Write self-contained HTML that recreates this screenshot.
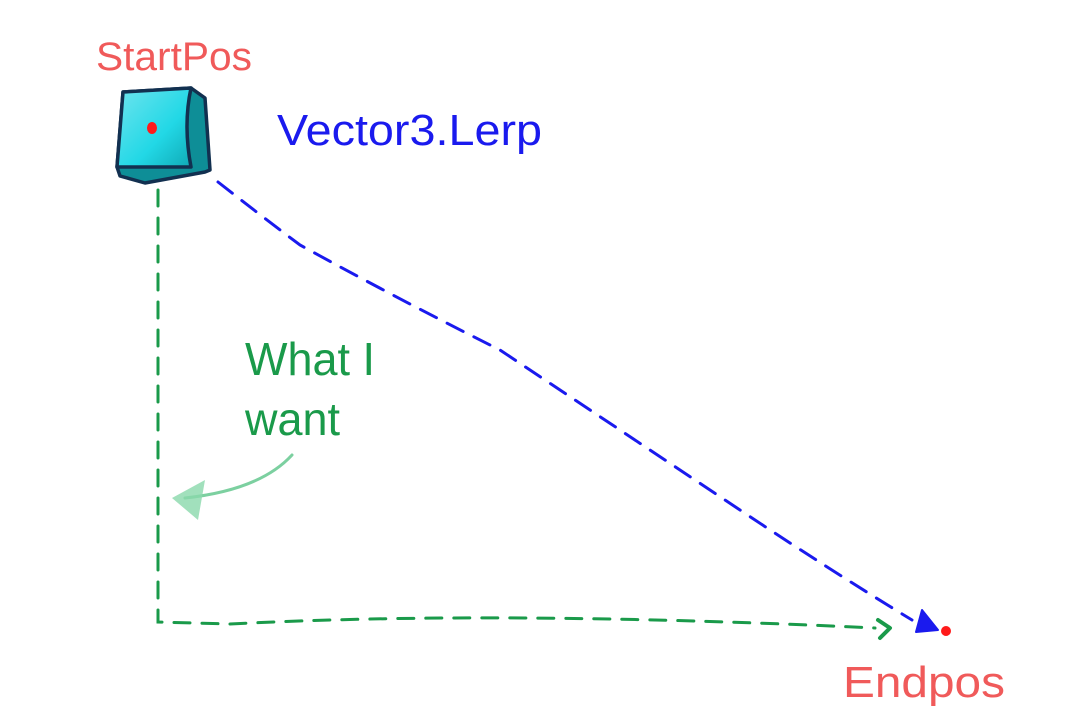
<!DOCTYPE html>
<html><head><style>
html,body{margin:0;padding:0;background:#fff;}
svg{display:block;}
text{font-family:"Liberation Sans",sans-serif;}
</style></head><body>
<svg width="1080" height="720" viewBox="0 0 1080 720">
<defs>
<linearGradient id="g" x1="0" y1="0" x2="1" y2="1">
<stop offset="0" stop-color="#6fe4ee"/><stop offset="0.6" stop-color="#22d8e6"/><stop offset="1" stop-color="#10a9b5"/>
</linearGradient>
</defs>
<!-- labels -->
<text x="96" y="70" font-size="40" fill="#f05a5a" textLength="156" lengthAdjust="spacingAndGlyphs">StartPos</text>
<text x="277" y="145" font-size="44" fill="#1a1aee" textLength="265" lengthAdjust="spacingAndGlyphs">Vector3.Lerp</text>
<text x="843" y="697" font-size="44" fill="#f05a5a" textLength="162" lengthAdjust="spacingAndGlyphs">Endpos</text>
<text x="245" y="375" font-size="46" fill="#1a9a4a" textLength="130" lengthAdjust="spacingAndGlyphs">What I</text>
<text x="245" y="435" font-size="46" fill="#1a9a4a" textLength="95" lengthAdjust="spacingAndGlyphs">want</text>
<!-- cube -->
<path d="M123 92 L191 88 L205 98 L210 170 L205 172 L145 183 L120 176 L117 167 Z" fill="#0e8e97" stroke="#123050" stroke-width="3.5" stroke-linejoin="round"/>
<path d="M123 92 L191 88 Q183 125 191 167 L117 167 Z" fill="url(#g)" stroke="#123050" stroke-width="3.5" stroke-linejoin="round"/>
<ellipse cx="152" cy="128" rx="5" ry="6" fill="#ff1a1a"/>
<!-- blue dashed -->
<path d="M218 182 Q260 215 300 245 Q400 300 500 350 Q620 430 740 510 Q830 570 912 620" fill="none" stroke="#1a1aee" stroke-width="3" stroke-dasharray="18 12" stroke-linecap="round"/>
<path d="M922 610 L938 630 L916 632 Z" fill="#1a1aee" stroke="#1a1aee" stroke-width="2" stroke-linejoin="round"/>
<circle cx="946" cy="631" r="5" fill="#ff1a1a"/>
<!-- green dashed -->
<path d="M158 190 L158 622 L230 624 Q500 610 875 628" fill="none" stroke="#1a9a4a" stroke-width="3" stroke-dasharray="16 12" stroke-linecap="round"/>
<path d="M878 620 L890 628 L880 638" fill="none" stroke="#1a9a4a" stroke-width="4" stroke-linecap="round" stroke-linejoin="round"/>
<!-- pale arrow -->
<path d="M292 455 Q260 490 185 498" fill="none" stroke="#7cd0a0" stroke-width="3" stroke-linecap="round"/>
<path d="M172 498 L205 480 L198 520 Z" fill="#8ad8ab" opacity="0.8"/>
</svg>
</body></html>
